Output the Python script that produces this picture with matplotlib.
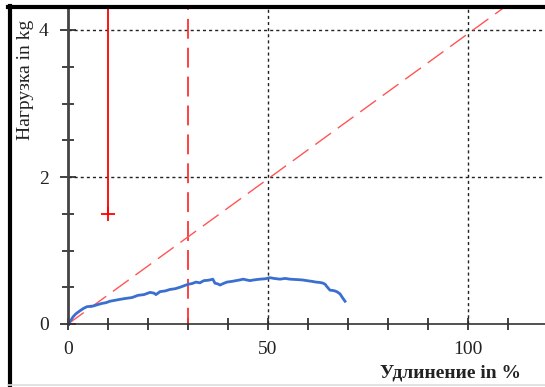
import matplotlib
matplotlib.use("Agg")
import matplotlib.pyplot as plt
from matplotlib.lines import Line2D
from matplotlib.ticker import MultipleLocator, FixedLocator

# ---- data ----
curve_x = [0, 0.7, 1.3, 2.0, 3.0, 3.8, 4.7, 5.5, 6.3, 7.2, 8.5, 9.5, 10.5, 11.5, 12.5,
           13.5, 14.7, 16, 17.5, 19, 20.5, 21.5, 22, 23, 24.3, 25.5, 26.8, 28, 29, 30,
           31, 32, 33, 33.6, 34, 35, 35.5, 36.2, 36.75, 37.5, 38, 38.8, 39.7, 41, 42,
           43, 43.8, 44.6, 45.5, 46.5, 48, 49.3, 50.5, 51.5, 53, 54.3, 55.5, 57, 58.5,
           59.7, 61, 62, 63, 63.8, 64.3, 64.7, 65.5, 66.4, 67.2, 68.0, 68.6, 69.25]
curve_y = [0, 0.05, 0.1, 0.14, 0.18, 0.21, 0.235, 0.24, 0.245, 0.26, 0.28, 0.29, 0.31,
           0.32, 0.33, 0.34, 0.35, 0.36, 0.39, 0.4, 0.43, 0.42, 0.40, 0.44, 0.45, 0.47,
           0.48, 0.5, 0.52, 0.54, 0.55, 0.57, 0.56, 0.58, 0.59, 0.595, 0.6, 0.61, 0.555,
           0.545, 0.53, 0.55, 0.57, 0.58, 0.59, 0.6, 0.61, 0.6, 0.59, 0.6, 0.61, 0.615,
           0.63, 0.62, 0.61, 0.62, 0.61, 0.605, 0.6, 0.59, 0.58, 0.57, 0.565, 0.555,
           0.54, 0.51, 0.46, 0.455, 0.44, 0.41, 0.36, 0.31]
diag_x = [0, 110]
diag_y = [0, 4.345]
marker_x = 10
marker_y = 1.5
vline_x = 30
xticks_major = [0, 50, 100]
yticks_major = [0, 2, 4]
xlabel = "Удлинение in %"
ylabel = "Нагрузка in kg"

W, H = 545, 387
fig = plt.figure(figsize=(W / 100, H / 100), dpi=100)
fig.patch.set_facecolor("white")

def fx(px):
    return px / W

def fy(py):
    return 1 - py / H

ax = fig.add_axes([fx(68), fy(324), fx(545) - fx(68), fy(7) - fy(324)])
ax.set_xlim(0, (545 - 68) / 4.0)
ax.set_ylim(0, (324 - 7) / 73.5)

for s in ["top", "right"]:
    ax.spines[s].set_visible(False)
ax.spines["left"].set_color("#444444")
ax.spines["left"].set_linewidth(2.0)
ax.spines["left"].set_zorder(6)
ax.spines["bottom"].set_color("#333333")
ax.spines["bottom"].set_linewidth(1.2)
ax.spines["bottom"].set_zorder(6)

ax.xaxis.set_major_locator(FixedLocator(xticks_major))
ax.xaxis.set_minor_locator(MultipleLocator(10))
ax.yaxis.set_major_locator(FixedLocator(yticks_major))
ax.yaxis.set_minor_locator(MultipleLocator(0.5))
ax.tick_params(which="both", direction="inout", length=8, width=1.2, color="#222222")
ax.tick_params(axis="y", which="major", length=12)
ax.tick_params(axis="x", which="major", length=9)
ax.tick_params(axis="x", which="major", pad=8)
ax.tick_params(axis="y", which="major", pad=8)
for lab in ax.get_xticklabels() + ax.get_yticklabels():
    lab.set_fontfamily("Liberation Serif")
    lab.set_fontsize(14)
    lab.set_color("#222222")

# grid lines (not at zero)
for gx in xticks_major[1:]:
    ax.axvline(gx, color="#222222", lw=1.0, ls=(0, (2.2, 2.2)), zorder=1)
for gy in yticks_major[1:]:
    ax.axhline(gy, color="#222222", lw=1.0, ls=(0, (2.2, 2.2)), zorder=1)

# red markers / lines
ax.plot([marker_x, marker_x], [marker_y, ax.get_ylim()[1]], color="#ff0000", lw=1.3,
        solid_capstyle="butt", zorder=3)
ax.plot([marker_x], [marker_y], marker="+", color="#ff0000", markersize=10, mew=1.3, zorder=3)
ax.axvline(vline_x, color="#ff3333", lw=1.3, ls=(2, (11, 5)), zorder=3)
ax.plot(diag_x, diag_y, color="#ff5555", lw=1.0, ls=(0, (14, 6)), zorder=3)

# blue curve
ax.plot(curve_x, curve_y, color="#3a6fd0", lw=2.0, zorder=4)

# labels
fig.text(fx(26), fy(80), ylabel, rotation=90, ha="center", va="center",
         fontfamily="Liberation Serif", fontsize=14, color="#222222")
fig.text(fx(451), fy(373), xlabel, ha="center", va="center",
         fontfamily="Liberation Serif", fontsize=14, fontweight="bold", color="#222222")

# outer frame
fig.add_artist(Line2D([fx(9.5), fx(9.5)], [fy(385), fy(6)], color="black", lw=3,
                      transform=fig.transFigure))
fig.add_artist(Line2D([fx(8), fx(545)], [fy(7), fy(7)], color="black", lw=3,
                      transform=fig.transFigure))
fig.add_artist(Line2D([fx(8), fx(545)], [fy(385), fy(385)], color="#dddddd", lw=1.2,
                      transform=fig.transFigure))

fig.savefig("out.png", dpi=100)
